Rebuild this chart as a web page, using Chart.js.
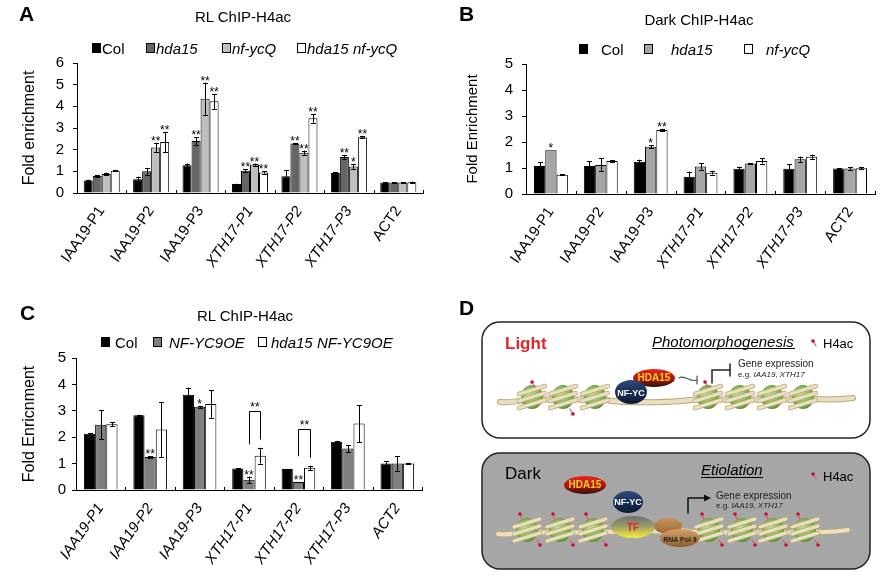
<!DOCTYPE html>
<html><head><meta charset="utf-8">
<script src="https://cdn.jsdelivr.net/npm/chart.js@4.4.1/dist/chart.umd.min.js"></script>
<style>
html,body{margin:0;padding:0;background:#fff;}
#wrap{position:relative;width:888px;height:584px;overflow:hidden;font-family:"Liberation Sans",Arial,sans-serif;color:#000;}
.t{position:absolute;white-space:nowrap;line-height:1;transform:translateY(-50%);}
.c{transform:translate(-50%,-50%);}
.letter{font-weight:bold;font-size:21px;}
.sq{position:absolute;width:9px;height:10px;border:1px solid #000;box-sizing:border-box;}
canvas{position:absolute;}
</style></head>
<body><div id="wrap">
<canvas id="cA" width="440" height="290" style="left:0;top:0"></canvas>
<canvas id="cB" width="448" height="290" style="left:440px;top:0"></canvas>
<canvas id="cC" width="440" height="294" style="left:0;top:290px"></canvas>
<canvas id="cD" width="448" height="294" style="left:440px;top:290px"></canvas>
<div id="ov"></div>
</div>
<script>
// ---------- DATA ----------
const categories = ['IAA19-P1','IAA19-P2','IAA19-P3','XTH17-P1','XTH17-P2','XTH17-P3','ACT2'];
const italicAB = [false,false,false,true,true,true,false];
const italicC  = [true,true,true,true,true,true,true];

// Panel A: RL ChIP-H4ac
const A_col      = [0.58, 0.64, 1.28, 0.41, 0.77, 0.92, 0.49];
const A_col_err  = [0.03, 0.12, 0.08, 0.02, 0.30, 0.03, 0.01];
const A_hda      = [0.79, 1.00, 2.40, 1.03, 2.29, 1.66, 0.49];
const A_hda_err  = [0.03, 0.16, 0.18, 0.06, 0.02, 0.08, 0.01];
const A_nf       = [0.88, 2.10, 4.35, 1.31, 1.86, 1.22, 0.49];
const A_nf_err   = [0.06, 0.20, 0.75, 0.05, 0.10, 0.12, 0.01];
const A_dbl      = [1.03, 2.35, 4.23, 0.95, 3.45, 2.57, 0.50];
const A_dbl_err  = [0.02, 0.47, 0.35, 0.05, 0.20, 0.05, 0.03];
const A_col_sig  = ['','','','','','',''];
const A_hda_sig  = ['','','**','**','**','**',''];
const A_nf_sig   = ['','**','**','**','**','*',''];
const A_dbl_sig  = ['','**','**','**','**','**',''];

// Panel B: Dark ChIP-H4ac
const B_col      = [1.08, 1.08, 1.24, 0.66, 0.97, 0.97, 0.98];
const B_col_err  = [0.14, 0.18, 0.08, 0.20, 0.08, 0.18, 0.02];
const B_hda      = [1.68, 1.12, 1.82, 1.06, 1.17, 1.34, 0.98];
const B_hda_err  = [0.00, 0.25, 0.05, 0.12, 0.02, 0.10, 0.04];
const B_nf       = [0.74, 1.27, 2.46, 0.82, 1.27, 1.43, 0.99];
const B_nf_err   = [0.02, 0.02, 0.05, 0.07, 0.10, 0.08, 0.03];
const B_col_sig  = ['','','','','','',''];
const B_hda_sig  = ['*','','*','','','',''];
const B_nf_sig   = ['','','**','','','',''];

// Panel C: RL ChIP-H4ac (overexpression)
const C_col      = [2.13, 2.83, 3.61, 0.81, 0.80, 1.83, 1.00];
const C_col_err  = [0.03, 0.02, 0.27, 0.02, 0.00, 0.03, 0.10];
const C_oe       = [2.47, 1.25, 3.15, 0.39, 0.30, 1.57, 1.00];
const C_oe_err   = [0.55, 0.03, 0.04, 0.12, 0.00, 0.13, 0.27];
const C_dbl      = [2.49, 2.29, 3.26, 1.30, 0.84, 2.52, 1.00];
const C_dbl_err  = [0.07, 1.05, 0.52, 0.30, 0.08, 0.70, 0.03];
const C_col_sig  = ['','','','','','',''];
const C_oe_sig   = ['','**','*','**','**','',''];
const C_dbl_sig  = ['','','','','','',''];
// brackets: category index, dataset from/to, top value, left/right leg bottoms
const C_brackets = [
  {cat:3, from:1, to:2, top:3.00, lb:1.73, rb:1.91, label:'**'},
  {cat:4, from:1, to:2, top:2.32, lb:1.28, rb:1.22, label:'**'}
];

// ---------- HELPERS ----------
const FAM = '"Liberation Sans", Arial, sans-serif';

const errPlugin = {
  id:'errbars',
  afterDatasetsDraw(chart, args, opts){
    const ctx = chart.ctx, ys = chart.scales.y, xs = chart.scales.x;
    ctx.save();
    ctx.strokeStyle = '#000'; ctx.fillStyle = '#000'; ctx.lineWidth = 1;
    ctx.font = '12px ' + FAM; ctx.textAlign = 'center'; ctx.textBaseline = 'alphabetic';
    chart.data.datasets.forEach((ds, di) => {
      const meta = chart.getDatasetMeta(di);
      meta.data.forEach((bar, i) => {
        const v = ds.data[i], e = opts.errs[di][i];
        const yt = ys.getPixelForValue(v + e), yb = ys.getPixelForValue(Math.max(0, v - e));
        const bx = Math.round(bar.x) + 0.5;
        if (e > 0) {
          ctx.beginPath();
          ctx.moveTo(bx, yt); ctx.lineTo(bx, yb);
          ctx.moveTo(bx - 2.5, Math.round(yt) + 0.5); ctx.lineTo(bx + 2.5, Math.round(yt) + 0.5);
          ctx.moveTo(bx - 2.5, Math.round(yb) + 0.5); ctx.lineTo(bx + 2.5, Math.round(yb) + 0.5);
          ctx.stroke();
        }
        const s = opts.stars[di][i];
        if (s) ctx.fillText(s, bar.x, yt + 2);
      });
    });
    (opts.brackets || []).forEach(b => {
      const m1 = chart.getDatasetMeta(b.from).data[b.cat], m2 = chart.getDatasetMeta(b.to).data[b.cat];
      const x1 = Math.round(m1.x) + 0.5, x2 = Math.round(m2.x) + 0.5;
      const yt = Math.round(ys.getPixelForValue(b.top)) + 0.5;
      ctx.beginPath();
      ctx.moveTo(x1, ys.getPixelForValue(b.lb)); ctx.lineTo(x1, yt);
      ctx.lineTo(x2, yt); ctx.lineTo(x2, ys.getPixelForValue(b.rb));
      ctx.stroke();
      ctx.fillText(b.label, (x1 + x2) / 2, yt - 1);
    });
    // small inward ticks on x axis between categories
    const yb = Math.round(ys.getPixelForValue(0)) ;
    ctx.beginPath();
    for (let i = 0; i <= chart.data.labels.length; i++) {
      const px = Math.round(xs.getPixelForValue(i - 0.5)) + 0.5;
      ctx.moveTo(px, yb); ctx.lineTo(px, yb - 3);
    }
    ctx.stroke();
    ctx.restore();
  }
};

function makeChart(id, series, o) {
  return new Chart(document.getElementById(id), {
    type: 'bar',
    data: {
      labels: categories,
      datasets: series.map(s => ({
        label: s.label, data: s.data, backgroundColor: s.color,
        borderColor: '#000', borderWidth: 1, borderSkipped: 'bottom',
        barPercentage: 1, categoryPercentage: o.catPct
      }))
    },
    options: {
      responsive: false, animation: false, devicePixelRatio: 1,
      layout: {padding: {top: o.top, right: o.right, left: 0, bottom: 0}},
      plugins: {
        legend: {display: false}, tooltip: {enabled: false},
        errbars: {errs: series.map(s => s.err), stars: series.map(s => s.sig), brackets: o.brackets}
      },
      scales: {
        x: {
          grid: {display: false},
          border: {display: true, color: '#000', width: 1},
          ticks: {
            autoSkip: false, minRotation: o.rot, maxRotation: o.rot, color: '#000', padding: 2,
            font: ctx => ({family: FAM, size: 15, style: o.italic[ctx.index] ? 'italic' : 'normal'})
          },
          afterFit: s => { s.height = o.xh; }
        },
        y: {
          min: 0, max: o.ymax,
          ticks: {stepSize: 1, color: '#000', font: {family: FAM, size: 15}, padding: o.tpadY},
          grid: {drawOnChartArea: false, drawTicks: true, tickLength: 4, color: '#000'},
          border: {display: true, color: '#000', width: 1},
          title: {display: true, text: o.ytitle, color: '#000', font: {family: FAM, size: o.ytSize},
                  padding: {top: o.ytPad, bottom: 0}},
          afterFit: s => { s.width = o.yw; }
        }
      }
    },
    plugins: [errPlugin]
  });
}

makeChart('cA', [
  {label:'Col', data:A_col, err:A_col_err, sig:A_col_sig, color:'#000000'},
  {label:'hda15', data:A_hda, err:A_hda_err, sig:A_hda_sig, color:'#666666'},
  {label:'nf-ycQ', data:A_nf, err:A_nf_err, sig:A_nf_sig, color:'#bfbfbf'},
  {label:'hda15 nf-ycQ', data:A_dbl, err:A_dbl_err, sig:A_dbl_sig, color:'#ffffff'}
], {catPct:0.73, top:63, right:17, xh:97, yw:77, ymax:6, ytitle:'Fold enrichment', ytSize:16, ytPad:20, tpadY:9, rot:55, italic:italicAB});

makeChart('cB', [
  {label:'Col', data:B_col, err:B_col_err, sig:B_col_sig, color:'#000000'},
  {label:'hda15', data:B_hda, err:B_hda_err, sig:B_hda_sig, color:'#a6a6a6'},
  {label:'nf-ycQ', data:B_nf, err:B_nf_err, sig:B_nf_sig, color:'#ffffff'}
], {catPct:0.68, top:64, right:13, xh:96, yw:86, ymax:5, ytitle:'Fold Enrichment', ytSize:15, ytPad:24, tpadY:9, rot:55, italic:italicAB});

makeChart('cC', [
  {label:'Col', data:C_col, err:C_col_err, sig:C_col_sig, color:'#000000'},
  {label:'NF-YC9OE', data:C_oe, err:C_oe_err, sig:C_oe_sig, color:'#808080'},
  {label:'hda15 NF-YC9OE', data:C_dbl, err:C_dbl_err, sig:C_dbl_sig, color:'#ffffff'}
], {catPct:0.68, top:68, right:18, xh:94, yw:76, ymax:5, ytitle:'Fold Enricnment', ytSize:16, ytPad:20, tpadY:6, rot:55, italic:italicC, brackets:C_brackets});

// ---------- OVERLAY TEXT (titles, legends, panel letters, panel D labels) ----------
const ov = document.getElementById('ov');
function T(html, x, y, css, center) {
  const d = document.createElement('div');
  d.className = 't' + (center ? ' c' : '');
  d.style.left = x + 'px'; d.style.top = y + 'px';
  d.style.cssText += css || '';
  d.innerHTML = html; ov.appendChild(d);
}
function SQ(x, y, color) {
  const d = document.createElement('div'); d.className = 'sq';
  d.style.left = x + 'px'; d.style.top = (y - 5) + 'px'; d.style.background = color;
  ov.appendChild(d);
}
// letters
T('A', 19, 13, '', false); ov.lastChild.classList.add('letter');
T('B', 459, 13, '', false); ov.lastChild.classList.add('letter');
T('C', 20, 312, '', false); ov.lastChild.classList.add('letter');
T('D', 459, 307, '', false); ov.lastChild.classList.add('letter');
// titles
T('RL ChIP-H4ac', 243, 16, 'font-size:15px;', true);
T('Dark ChIP-H4ac', 699, 19, 'font-size:15px;', true);
T('RL ChIP-H4ac', 245, 315, 'font-size:15px;', true);
// legend A
SQ(92, 48, '#000'); T('Col', 102, 48, 'font-size:15px;');
SQ(146, 48, '#666'); T('<i>hda15</i>', 156, 48, 'font-size:15px;');
SQ(222, 48, '#bfbfbf'); T('<i>nf-ycQ</i>', 232, 48, 'font-size:15px;');
SQ(297, 48, '#fff'); T('<i>hda15 nf-ycQ</i>', 307, 48, 'font-size:15px;');
// legend B
SQ(579, 49, '#000'); T('Col', 601, 49, 'font-size:15px;');
SQ(644, 49, '#a6a6a6'); T('<i>hda15</i>', 671, 49, 'font-size:15px;');
SQ(744, 49, '#fff'); T('<i>nf-ycQ</i>', 766, 49, 'font-size:15px;');
// legend C
SQ(101, 342, '#000'); T('Col', 115, 342, 'font-size:15px;');
SQ(153, 342, '#808080'); T('<i>NF-YC9OE</i>', 169, 342, 'font-size:15px;');
SQ(258, 342, '#fff'); T('<i>hda15 NF-YC9OE</i>', 271, 342, 'font-size:15px;');

// panel D text (canvas D origin at 440,290)
const DX = 440, DY = 290;
T('Light', DX+65, DY+53, 'font-size:17px;font-weight:bold;color:#e3242b;');
T('<i>Photomorphogenesis</i>', DX+212, DY+51, 'font-size:15px;');
T('H4ac', DX+383, DY+53, 'font-size:13px;');
T('Gene expression', DX+298, DY+74, 'font-size:10px;color:#222;');
T('e.g. <i>IAA19</i>, <i>XTH17</i>', DX+298, DY+85, 'font-size:8px;color:#222;');
T('HDA15', DX+214, DY+88, 'font-size:10px;font-weight:bold;color:#ffd21a;', true);
T('NF-YC', DX+191, DY+103, 'font-size:9px;font-weight:bold;color:#fff;', true);
T('Dark', DX+65, DY+183, 'font-size:17px;');
T('<i>Etiolation</i>', DX+261, DY+179, 'font-size:15px;');
T('H4ac', DX+383, DY+186, 'font-size:13px;');
T('Gene expression', DX+276, DY+206, 'font-size:10px;color:#222;');
T('e.g. <i>IAA19</i>, <i>XTH17</i>', DX+276, DY+216, 'font-size:8px;color:#222;');
T('HDA15', DX+145, DY+195, 'font-size:10px;font-weight:bold;color:#ffd21a;', true);
T('NF-YC', DX+188, DY+212, 'font-size:9px;font-weight:bold;color:#fff;', true);
T('TF', DX+193, DY+238, 'font-size:10px;font-weight:bold;color:#e3242b;', true);
T('RNA Pol II', DX+240, DY+249, 'font-size:7px;font-weight:bold;color:#222;', true);

// ---------- PANEL D schematic ----------
(function(){
  const c = document.getElementById('cD').getContext('2d');
  function rr(x, y, w, h, r, fill) {
    c.beginPath(); c.moveTo(x + r, y); c.arcTo(x + w, y, x + w, y + h, r); c.arcTo(x + w, y + h, x, y + h, r);
    c.arcTo(x, y + h, x, y, r); c.arcTo(x, y, x + w, y, r); c.closePath();
    c.fillStyle = fill; c.fill(); c.lineWidth = 1.5; c.strokeStyle = '#222'; c.stroke();
  }
  rr(42, 32, 388, 116, 18, '#ffffff');
  rr(42, 163, 388, 116, 18, '#a6a6a6');
  // underlines
  c.fillStyle = '#000'; c.fillRect(212, 58, 143, 1); c.fillRect(261, 187, 62, 1);
  function dna(pts) {
    c.lineCap = 'round';
    [['#b9a878', 6], ['#eadfbf', 4]].forEach(([col, w]) => {
      c.beginPath(); c.moveTo(pts[0][0], pts[0][1]);
      for (let i = 1; i < pts.length; i++) {
        const p = pts[i - 1], q = pts[i];
        c.quadraticCurveTo((p[0] + q[0]) / 2, (p[1] + q[1]) / 2 + 3, q[0], q[1]);
      }
      c.strokeStyle = col; c.lineWidth = w; c.stroke();
    });
  }
  function nuc(x, y) {
    const g = c.createRadialGradient(x - 3, y - 4, 2, x, y, 13);
    g.addColorStop(0, '#b5dc86'); g.addColorStop(0.6, '#7fb850'); g.addColorStop(1, '#4f8a2c');
    c.beginPath(); c.ellipse(x, y, 11, 12, 0, 0, Math.PI * 2); c.fillStyle = g; c.fill();
    c.lineCap = 'round';
    for (let k = -1; k <= 1; k++) {
      c.beginPath(); c.moveTo(x - 13, y + k * 7 + 4); c.lineTo(x + 13, y + k * 7 - 4);
      c.strokeStyle = '#b9a878'; c.lineWidth = 4.5; c.stroke();
      c.strokeStyle = '#eadfbf'; c.lineWidth = 3; c.stroke();
    }
  }
  function pin(x, y, dx, dy) {
    c.beginPath(); c.moveTo(x, y); c.lineTo(x + dx, y + dy); c.strokeStyle = '#e8577a'; c.lineWidth = 1.2; c.stroke();
    c.beginPath(); c.arc(x + dx, y + dy, 1.8, 0, Math.PI * 2); c.fillStyle = '#c8102e'; c.fill();
  }
  function oval(x, y, rx, ry, stops) {
    const g = c.createLinearGradient(x, y - ry, x, y + ry);
    stops.forEach(s => g.addColorStop(s[0], s[1]));
    c.beginPath(); c.ellipse(x, y, rx, ry, 0, 0, Math.PI * 2); c.fillStyle = g; c.fill();
  }
  // Light
  const LN = [[92,107],[123,107],[155,107],[268,107],[300,107],[332,107],[363,107]];
  dna([[60,112],[92,108],[123,108],[155,108],[200,112],[268,108],[300,108],[332,108],[363,108],[413,108]]);
  LN.forEach(p => nuc(p[0], p[1]));
  pin(95, 97, -3, -5); pin(130, 119, 3, 5); pin(268, 97, -3, -5);
  pin(376, 56, -3, -5);
  oval(214, 88, 21, 9, [[0,'#e4261f'],[0.55,'#b3140f'],[1,'#2a140a']]);
  oval(191, 102, 16, 12, [[0,'#2e4a7a'],[0.5,'#1a2f57'],[1,'#0c1a35']]);
  // inhibition from HDA15
  c.strokeStyle = '#555'; c.lineWidth = 1.2;
  c.beginPath(); c.moveTo(239, 88); c.bezierCurveTo(245, 84, 250, 93, 257, 90); c.stroke();
  c.beginPath(); c.moveTo(257, 86); c.lineTo(257, 94); c.stroke();
  // repressed promoter
  c.strokeStyle = '#222'; c.lineWidth = 1.5;
  c.beginPath(); c.moveTo(272, 93); c.lineTo(272, 80); c.lineTo(290, 80); c.stroke();
  c.beginPath(); c.moveTo(290, 74); c.lineTo(290, 86); c.stroke();
  // Dark
  const DN = [[87,240],[120,240],[153,240],[269,240],[302,240],[333,240],[365,240]];
  dna([[58,244],[87,241],[120,241],[153,241],[200,240],[240,240],[269,241],[302,241],[333,241],[365,241],[408,240]]);
  DN.forEach(p => nuc(p[0], p[1]));
  DN.forEach(p => { pin(p[0] - 5, p[1] - 10, -2, -6); pin(p[0] + 10, p[1] + 10, 3, 5); });
  pin(376, 189, -3, -5);
  oval(145, 195, 21, 9, [[0,'#e4261f'],[0.55,'#b3140f'],[1,'#2a140a']]);
  oval(188, 212, 15, 11, [[0,'#2e4a7a'],[0.5,'#1a2f57'],[1,'#0c1a35']]);
  oval(193, 237, 22, 11, [[0,'#6e6e6e'],[0.45,'#9a9a6a'],[1,'#f4ef3a']]);
  oval(228, 236, 14, 8, [[0,'#c9935c'],[1,'#9a6a36']]);
  oval(240, 248, 20, 9, [[0,'#d4a26c'],[1,'#8f5e2c']]);
  // active promoter arrow
  c.strokeStyle = '#111'; c.lineWidth = 1.5;
  c.beginPath(); c.moveTo(248, 223); c.lineTo(248, 208); c.lineTo(266, 208); c.stroke();
  c.beginPath(); c.moveTo(271, 208); c.lineTo(264, 204.5); c.lineTo(264, 211.5); c.closePath(); c.fillStyle = '#111'; c.fill();
})();
</script>
</body></html>
